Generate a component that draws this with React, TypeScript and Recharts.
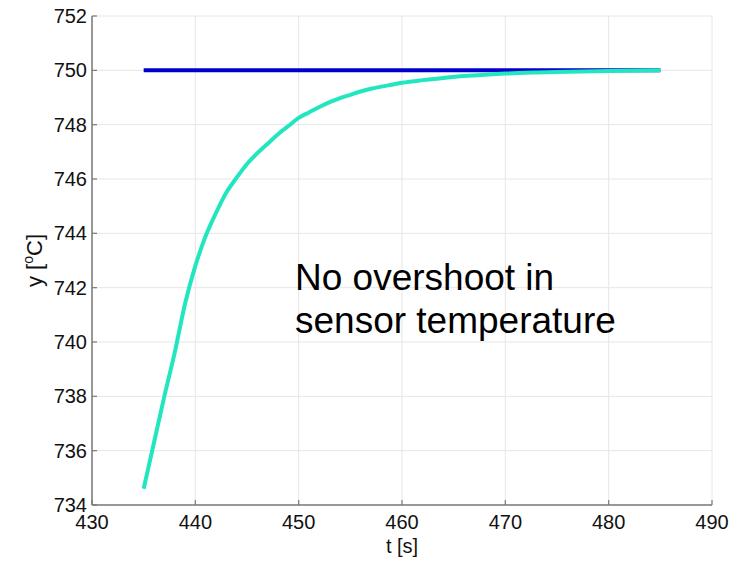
import React from 'react';
import { LineChart, Line, XAxis, YAxis, CartesianGrid } from 'recharts';

const tSensor = [435, 436, 437, 438, 439, 440, 441, 442, 443, 444, 445, 446, 447, 448, 449, 450, 451, 452, 453, 454, 455, 456, 457, 458, 459, 460, 462, 464, 466, 468, 470, 473, 476, 480, 485];
const ySensor = [734.6, 736.3, 738.0, 739.6, 741.4, 742.8, 743.9, 744.75, 745.5, 746.05, 746.55, 746.95, 747.3, 747.65, 747.95, 748.25, 748.45, 748.65, 748.83, 748.98, 749.1, 749.22, 749.32, 749.4, 749.47, 749.54, 749.64, 749.72, 749.79, 749.84, 749.88, 749.92, 749.95, 749.98, 750.0];
const tSetpoint = [435, 485];
const ySetpoint = [750, 750];
const xTicks = [430, 440, 450, 460, 470, 480, 490];
const yTicks = [734, 736, 738, 740, 742, 744, 746, 748, 750, 752];

const sensorData = tSensor.map((t, i) => ({ t, y: ySensor[i] }));
const setpointData = tSetpoint.map((t, i) => ({ t, y: ySetpoint[i] }));

const FONT = '"Liberation Sans", Arial, Helvetica, sans-serif';
const AXIS = '#7a7a7a';
const TXT = '#111111';
const TS = 5; // tickSize
const TM = 5; // tickMargin
const OFF = TS + TM;
const IN = 5; // inward tick length

const BottomTick = (p: any) => (
  <g>
    <line x1={p.x} x2={p.x} y1={p.y - OFF} y2={p.y - OFF - IN} stroke={AXIS} strokeWidth={1.2} />
    <text x={p.x} y={p.y} dy="0.71em" textAnchor="middle" fontFamily={FONT} fontSize={20} fill={TXT}>
      {p.payload.value}
    </text>
  </g>
);
const TopTick = (p: any) => (
  <line x1={p.x} x2={p.x} y1={p.y + OFF} y2={p.y + OFF + IN} stroke={AXIS} strokeWidth={1.2} />
);
const LeftTick = (p: any) => (
  <g>
    <line x1={p.x + OFF} x2={p.x + OFF + IN} y1={p.y} y2={p.y} stroke={AXIS} strokeWidth={1.2} />
    <text x={p.x + OFF - 5} y={p.y} dy="0.355em" textAnchor="end" fontFamily={FONT} fontSize={20} fill={TXT}>
      {p.payload.value}
    </text>
  </g>
);
const RightTick = (p: any) => (
  <line x1={p.x - OFF} x2={p.x - OFF - IN} y1={p.y} y2={p.y} stroke={AXIS} strokeWidth={1.2} />
);

const YLabel = () => {
  const cx = 34;
  const cy = 260.5;
  return (
    <text
      x={cx}
      y={cy}
      transform={`rotate(-90, ${cx}, ${cy})`}
      textAnchor="middle"
      fontFamily={FONT}
      fontSize={22}
      fill={TXT}
    >
      <tspan>y [</tspan>
      <tspan dy={-9} fontSize={14}>o</tspan>
      <tspan dy={9}>C]</tspan>
    </text>
  );
};

export default function App() {
  return (
    <div style={{ position: 'relative', width: 735, height: 561, marginTop: -8, fontFamily: FONT }}>
      <LineChart
        width={735}
        height={561}
        margin={{ top: 16, right: 31, bottom: 8, left: 0 }}
      >
        <CartesianGrid stroke="#e6e6e6" strokeWidth={1} />
        <XAxis
          xAxisId={0}
          dataKey="t"
          type="number"
          domain={[430, 490]}
          ticks={xTicks}
          allowDataOverflow
          height={48}
          stroke={AXIS}
          strokeWidth={1.5}
          tickLine={false}
          tickSize={TS}
          tickMargin={TM}
          tick={<BottomTick />}
          label={{ value: 't [s]', position: 'insideBottom', offset: 0, fill: TXT, fontSize: 20, fontFamily: FONT }}
        />
        <XAxis
          xAxisId="top"
          orientation="top"
          type="number"
          domain={[430, 490]}
          ticks={xTicks}
          allowDataOverflow
          height={0}
          stroke={AXIS}
          strokeWidth={1.5}
          tickLine={false}
          tickSize={TS}
          tickMargin={TM}
          tick={<TopTick />}
        />
        <YAxis
          yAxisId={0}
          type="number"
          domain={[734, 752]}
          ticks={yTicks}
          allowDataOverflow
          width={84}
          stroke={AXIS}
          strokeWidth={1.5}
          tickLine={false}
          tickSize={TS}
          tickMargin={TM}
          tick={<LeftTick />}
          label={<YLabel />}
        />
        <YAxis
          yAxisId="right"
          orientation="right"
          type="number"
          domain={[734, 752]}
          ticks={yTicks}
          allowDataOverflow
          width={0}
          stroke={AXIS}
          strokeWidth={1.5}
          tickLine={false}
          tickSize={TS}
          tickMargin={TM}
          tick={<RightTick />}
        />
        <Line
          data={setpointData}
          dataKey="y"
          xAxisId={0}
          yAxisId={0}
          type="linear"
          stroke="#0000cc"
          strokeWidth={4}
          dot={false}
          isAnimationActive={false}
        />
        <Line
          data={sensorData}
          dataKey="y"
          xAxisId={0}
          yAxisId={0}
          type="monotone"
          stroke="#22e6bf"
          strokeWidth={4}
          dot={false}
          isAnimationActive={false}
        />
      </LineChart>
      <svg
        width={735}
        height={561}
        style={{ position: 'absolute', left: 0, top: 0, pointerEvents: 'none' }}
      >
        <text x={287} y={290} fontFamily={FONT} fontSize={37} fill="#000">No overshoot in</text>
        <text x={287} y={333} fontFamily={FONT} fontSize={37} fill="#000">sensor temperature</text>
      </svg>
    </div>
  );
}
